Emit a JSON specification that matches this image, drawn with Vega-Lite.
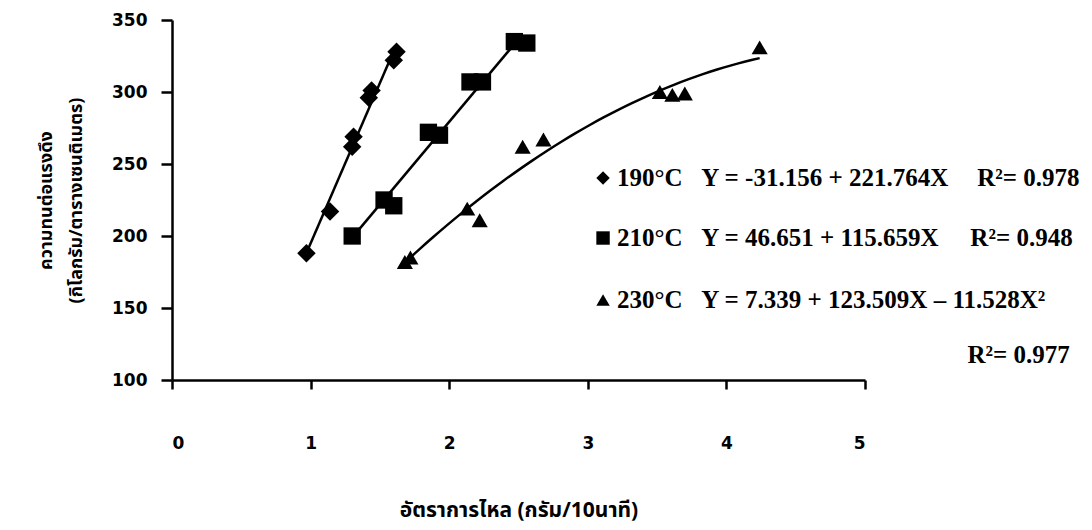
{
  "$schema": "https://vega.github.io/schema/vega-lite/v6.json",
  "width": 693,
  "height": 360,
  "autosize": {"type": "none"},
  "padding": {"left": 172, "top": 20, "right": 227, "bottom": 150},
  "background": "white",
  "config": {
    "view": {"stroke": null},
    "axis": {
      "grid": false,
      "domainColor": "black",
      "domainWidth": 2.5,
      "tickColor": "black",
      "tickWidth": 2.5,
      "labelColor": "black",
      "labelFont": "DejaVu Sans",
      "labelFontWeight": "bold",
      "labelFontSize": 17,
      "titleColor": "black",
      "titleFont": "Noto Sans Thai, Loma, Garuda, Norasi, DejaVu Sans, sans-serif",
      "titleFontWeight": "bold",
      "titleFontSize": 17
    },
    "text": {"font": "Liberation Serif", "fontWeight": "bold", "fontSize": 25, "color": "black", "align": "left", "baseline": "middle"}
  },
  "datasets": {
    "flow": [
      {"series": "190", "flow": 0.97, "strength": 188},
      {"series": "190", "flow": 1.14, "strength": 217},
      {"series": "190", "flow": 1.30, "strength": 262},
      {"series": "190", "flow": 1.31, "strength": 269},
      {"series": "190", "flow": 1.42, "strength": 296},
      {"series": "190", "flow": 1.44, "strength": 301},
      {"series": "190", "flow": 1.60, "strength": 322},
      {"series": "190", "flow": 1.62, "strength": 328},
      {"series": "210", "flow": 1.30, "strength": 200},
      {"series": "210", "flow": 1.53, "strength": 225},
      {"series": "210", "flow": 1.60, "strength": 221},
      {"series": "210", "flow": 1.85, "strength": 272},
      {"series": "210", "flow": 1.93, "strength": 270},
      {"series": "210", "flow": 2.15, "strength": 307},
      {"series": "210", "flow": 2.24, "strength": 307},
      {"series": "210", "flow": 2.47, "strength": 335},
      {"series": "210", "flow": 2.56, "strength": 334},
      {"series": "230", "flow": 1.68, "strength": 182},
      {"series": "230", "flow": 1.72, "strength": 185},
      {"series": "230", "flow": 2.13, "strength": 219},
      {"series": "230", "flow": 2.22, "strength": 211},
      {"series": "230", "flow": 2.53, "strength": 262},
      {"series": "230", "flow": 2.68, "strength": 267},
      {"series": "230", "flow": 3.52, "strength": 300},
      {"series": "230", "flow": 3.61, "strength": 298},
      {"series": "230", "flow": 3.70, "strength": 299},
      {"series": "230", "flow": 4.24, "strength": 331}
    ],
    "key": [
      {"series": "190", "key": 240.3, "eq": "190°C\u00a0\u00a0\u00a0Y = -31.156 + 221.764X"},
      {"series": "210", "key": 198.6, "eq": "210°C\u00a0\u00a0\u00a0Y = 46.651 + 115.659X"},
      {"series": "230", "key": 155.6, "eq": "230°C\u00a0\u00a0\u00a0Y = 7.339 + 123.509X – 11.528X²"}
    ]
  },
  "layer": [
    {
      "data": {"name": "flow"},
      "transform": [{"filter": "datum.series === '190'"}, {"regression": "strength", "on": "flow", "method": "linear"}],
      "mark": {"type": "line", "color": "black", "strokeWidth": 2.5},
      "encoding": {
        "x": {
          "field": "flow", "type": "quantitative",
          "scale": {"domain": [0, 5], "nice": false, "zero": false},
          "axis": {"values": [0, 1, 2, 3, 4, 5], "format": "d", "tickSize": 9, "labelPadding": 46, "title": "อัตราการไหล (กรัม/10นาที)", "titleFontSize": 21, "titlePadding": 48}
        },
        "y": {
          "field": "strength", "type": "quantitative",
          "scale": {"domain": [100, 350], "nice": false, "zero": false},
          "axis": {"values": [100, 150, 200, 250, 300, 350], "tickSize": 11, "labelPadding": 14, "title": ["ความทนต่อแรงดึง", "(กิโลกรัม/ตารางเซนติเมตร)"], "titleFontSize": 18, "titlePadding": 26, "titleLineHeight": 30}
        }
      }
    },
    {
      "data": {"name": "flow"},
      "transform": [{"filter": "datum.series === '210'"}, {"regression": "strength", "on": "flow", "method": "linear", "extent": [1.3, 2.5]}],
      "mark": {"type": "line", "color": "black", "strokeWidth": 2.5},
      "encoding": {
        "x": {"field": "flow", "type": "quantitative"},
        "y": {"field": "strength", "type": "quantitative"}
      }
    },
    {
      "data": {"name": "flow"},
      "transform": [{"filter": "datum.series === '230'"}, {"regression": "strength", "on": "flow", "method": "poly", "order": 2}],
      "mark": {"type": "line", "color": "black", "strokeWidth": 2.5, "interpolate": "monotone"},
      "encoding": {
        "x": {"field": "flow", "type": "quantitative"},
        "y": {"field": "strength", "type": "quantitative"}
      }
    },
    {
      "data": {"name": "flow"},
      "mark": {"type": "point", "filled": true, "color": "black", "opacity": 1},
      "encoding": {
        "x": {"field": "flow", "type": "quantitative"},
        "y": {"field": "strength", "type": "quantitative"},
        "shape": {"field": "series", "type": "nominal", "scale": {"domain": ["190", "210", "230"], "range": ["diamond", "square", "triangle-up"]}, "legend": null},
        "size": {"field": "series", "type": "nominal", "scale": {"domain": ["190", "210", "230"], "range": [340, 260, 270]}, "legend": null}
      }
    },
    {
      "data": {"name": "key"},
      "mark": {"type": "point", "filled": true, "color": "black", "opacity": 1, "size": 180},
      "encoding": {
        "x": {"datum": 3.11},
        "y": {"field": "key", "type": "quantitative"},
        "shape": {"field": "series", "type": "nominal", "legend": null}
      }
    },
    {
      "data": {"name": "key"},
      "mark": {"type": "text"},
      "encoding": {
        "x": {"datum": 3.21},
        "y": {"field": "key", "type": "quantitative"},
        "text": {"field": "eq"}
      }
    },
    {
      "data": {"values": [{"r2": "R²= 0.978", "at": 5.81, "key": 240.3}, {"r2": "R²= 0.948", "at": 5.76, "key": 198.6}, {"r2": "R²= 0.977", "at": 5.74, "key": 117.4}]},
      "mark": {"type": "text"},
      "encoding": {
        "x": {"field": "at", "type": "quantitative"},
        "y": {"field": "key", "type": "quantitative"},
        "text": {"field": "r2"}
      }
    }
  ]
}
